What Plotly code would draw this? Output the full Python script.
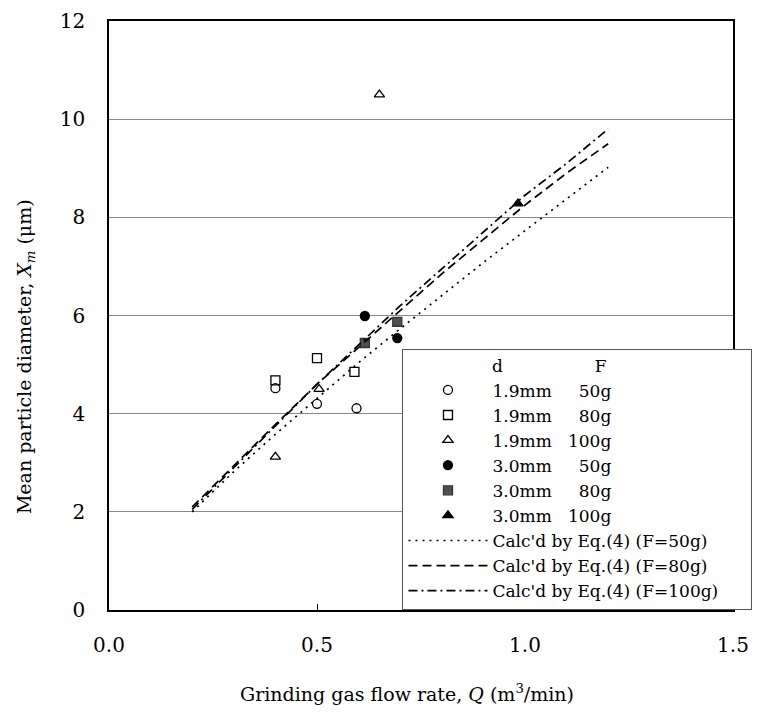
import plotly.graph_objects as go

# measured points
q_19_50 = [0.40, 0.50, 0.595]
x_19_50 = [4.52, 4.20, 4.11]
q_19_80 = [0.40, 0.50, 0.59]
x_19_80 = [4.68, 5.13, 4.85]
q_19_100 = [0.40, 0.505, 0.65]
x_19_100 = [3.12, 4.50, 10.5]
q_30_50 = [0.615, 0.693]
x_30_50 = [5.99, 5.54]
q_30_80 = [0.615, 0.693]
x_30_80 = [5.44, 5.87]
q_30_100 = [0.983]
x_30_100 = [8.28]

# calculated curves (Eq. 4)
q_calc = [0.2, 0.3, 0.4, 0.5, 0.6, 0.7, 0.8, 0.9, 1.0, 1.1, 1.2]
x_calc_50 = [2.0, 2.82, 3.58, 4.32, 5.04, 5.73, 6.41, 7.08, 7.73, 8.37, 9.02]
x_calc_80 = [2.1, 2.95, 3.78, 4.6, 5.35, 6.1, 6.85, 7.55, 8.25, 8.9, 9.5]
x_calc_100 = [2.05, 2.9, 3.75, 4.6, 5.4, 6.2, 6.95, 7.7, 8.45, 9.1, 9.8]

nb = "\u00a0"

FONT = "DejaVu Serif"
fig = go.Figure()

def pts(q, x, name, symbol, color="black", lc="black"):
    fig.add_trace(go.Scatter(
        x=q, y=x, mode="markers", name=name,
        marker=dict(symbol=symbol, size=9, color=color,
                    line=dict(color=lc, width=1.3))))

pts(q_19_50, x_19_50, "1.9mm" + nb * 5 + "50g", "circle-open")
pts(q_19_80, x_19_80, "1.9mm" + nb * 5 + "80g", "square-open")
pts(q_19_100, x_19_100, "1.9mm" + nb * 3 + "100g", "triangle-up-open")
pts(q_30_50, x_30_50, "3.0mm" + nb * 5 + "50g", "circle")
pts(q_30_80, x_30_80, "3.0mm" + nb * 5 + "80g", "square", color="#505050", lc="#333333")
pts(q_30_100, x_30_100, "3.0mm" + nb * 3 + "100g", "triangle-up")

for y, name, dash in [(x_calc_50, "Calc'd by Eq.(4) (F=50g)", "2px,5px"),
                      (x_calc_80, "Calc'd by Eq.(4) (F=80g)", "9px,5px"),
                      (x_calc_100, "Calc'd by Eq.(4) (F=100g)" + nb * 5, "9px,4px,2px,4px")]:
    fig.add_trace(go.Scatter(
        x=q_calc, y=y, mode="lines", name=name,
        line=dict(color="black", width=1.7, dash=dash)))

fig.update_layout(
    width=766, height=713,
    margin=dict(l=101, r=41, t=13, b=111),
    paper_bgcolor="white", plot_bgcolor="white",
    font=dict(family=FONT, size=19, color="black"),
    showlegend=True,
    legend=dict(
        x=0.47, y=0.443, xanchor="left", yanchor="top",
        bordercolor="#555555", borderwidth=1.2, bgcolor="white",
        font=dict(family=FONT, size=17),
        tracegroupgap=0, itemwidth=79,
        title=dict(text=nb * 16 + "d" + nb * 17 + "F", font=dict(family=FONT, size=17)),
    ),
    xaxis=dict(
        range=[0, 1.5], tickvals=[0, 0.5, 1.0, 1.5],
        ticktext=["0.0", "0.5", "1.0", "1.5"],
        tickfont=dict(family=FONT, size=20),
        showgrid=False, zeroline=False,
        showline=True, linecolor="black", linewidth=1.5, mirror=True,
        ticks="inside", ticklen=6, tickcolor="black",
        ticklabelstandoff=16,
        automargin=False,
    ),
    yaxis=dict(
        range=[0, 12], tickvals=[0, 2, 4, 6, 8, 10, 12],
        tickfont=dict(family=FONT, size=20),
        showgrid=True, gridcolor="#8a8a8a", gridwidth=1.3, zeroline=False,
        showline=True, linecolor="black", linewidth=1.5, mirror=True,
        ticks="", ticklen=0,
        ticklabelstandoff=18,
        automargin=False,
    ),
    annotations=[
        dict(text="Grinding gas flow rate, <i>Q</i> (m<sup>3</sup>/min)",
             xref="paper", yref="paper", x=0.478, y=-0.141,
             xanchor="center", yanchor="middle", showarrow=False,
             font=dict(family=FONT, size=19)),
        dict(text="Mean particle diameter, <i>X</i><sub><i>m</i></sub> (μm)",
             xref="paper", yref="paper", x=-0.134, y=0.43, textangle=-90,
             xanchor="center", yanchor="middle", showarrow=False,
             font=dict(family=FONT, size=19)),
    ],
)

fig.write_html("out.html")
